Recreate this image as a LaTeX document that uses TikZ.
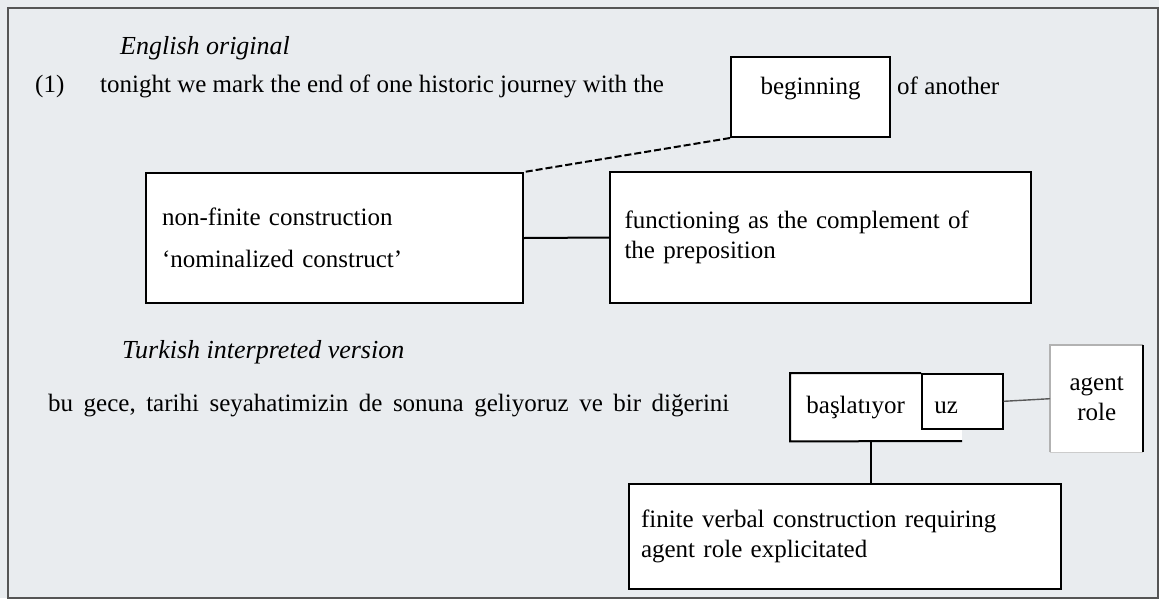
\documentclass[tikz,border=0pt]{standalone}
\usepackage{fontspec}
\setmainfont{Liberation Serif}
\definecolor{bgc}{HTML}{E9ECEF}
\definecolor{framec}{HTML}{555555}
\begin{document}
\begin{tikzpicture}[x=1pt,y=-1pt,
  txt/.style={anchor=west,inner sep=0pt,font=\fontsize{25}{30}\selectfont},
  hd/.style={txt,font=\fontsize{26}{30}\selectfont\itshape},
  boxx/.style={draw=black,line width=2pt,fill=white,inner sep=0pt,font=\fontsize{25}{30}\selectfont},
  link/.style={black,line width=2pt}]
\useasboundingbox (0,0) rectangle (1159,598);
\fill[bgc] (0,0) rectangle (1159,598);
\draw[framec,line width=1.2pt] (8,8) rectangle (1158,598);
% English part
\node[hd] (eng) at (120,48) {English original};
\node[txt] (num) at (35,86) {(1)};
\node[txt] (s1) at (100,86) {tonight we mark the end of one historic journey with the};
\node[boxx,anchor=base,text height=37pt,text depth=43pt,minimum width=159pt] (beg) at (810.5,94) {beginning};
\node[txt] (s2) at (897,86) {of another};
\node[boxx,minimum width=377pt,minimum height=130pt,anchor=north west,align=left,text width=345pt] (nf) at (145,172)
  {non-finite construction\\[12pt]`nominalized construct'};
\node[boxx,minimum width=421pt,minimum height=131pt,anchor=north west,align=left,text width=392pt] (fn) at (609,171)
  {functioning as the complement of\\the preposition\\[8pt]};
\draw[link,dash pattern=on 7pt off 3pt] (beg.south west) -- (nf.north east);
\draw[link] (nf.east) -- (fn.west);
% Turkish part
\node[hd] (tur) at (122,352) {Turkish interpreted version};
\node[txt] (t1) at (48,406) {\spaceskip=10.5pt bu gece, tarihi seyahatimizin de sonuna geliyoruz ve bir diğerini};
\coordinate (bend) at (962,441);
\node[fill=white,inner sep=0pt,text width=131pt,minimum height=68pt,anchor=north west,
  font=\fontsize{25}{30}\selectfont,align=center] (bas) at (790,373) {başlatıyor};
\fill[white] (bas.north east) rectangle (bend);
\node[boxx,line width=1.6pt,minimum width=81pt,anchor=north west,
  text width=56pt,align=left,text height=40pt,text depth=15pt] (uz) at (921,373) {uz};
\draw[link] (uz.north west) -- (bas.north west) -- (bas.south west) -- (bend);
\node[fill=white,inner sep=0pt,minimum width=93pt,minimum height=107pt,anchor=north west,
  font=\fontsize{25}{30}\selectfont,align=center] (ag) at (1050,345) {agent\\role};
\draw[gray!60,line width=1.4pt] (ag.south west) -- (ag.north west) -- (ag.north east);
\draw[black,line width=2pt] (ag.north east) -- (ag.south east);
\draw[gray!40,line width=1pt] (ag.south west) -- (ag.south east);
\draw[gray!70!black,line width=1.4pt] (uz.east) -- (ag.west);
\node[boxx,minimum width=432pt,minimum height=105pt,anchor=north west,align=left,text width=408pt] (fin) at (628,483)
  {finite verbal construction requiring\\agent role explicitated};
\draw[link] ([xshift=15pt]bas.south) -- ([xshift=15pt]bas.south |- fin.north);
\end{tikzpicture}
\end{document}
